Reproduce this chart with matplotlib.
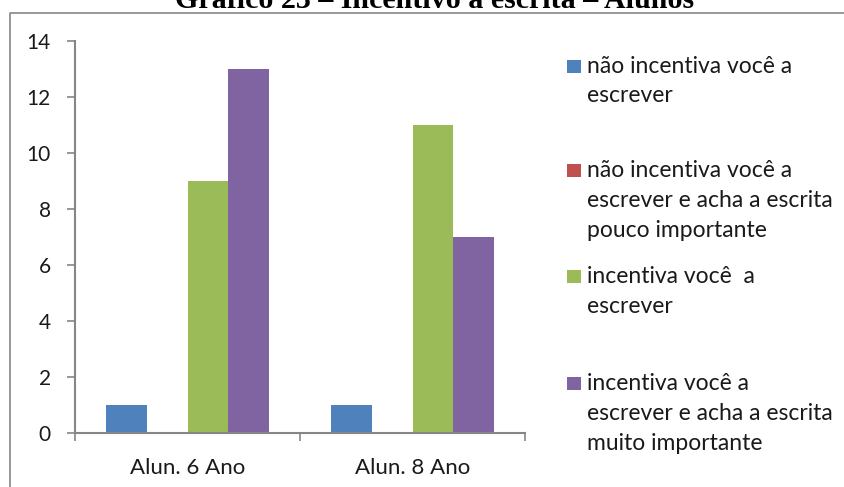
import matplotlib
matplotlib.use("Agg")
import matplotlib.pyplot as plt
from matplotlib.patches import Rectangle
from matplotlib.lines import Line2D
import numpy as np

# --- data -------------------------------------------------------------
categories = ["Alun. 6 Ano", "Alun. 8 Ano"]
series_names = [
    "não incentiva você a\nescrever",
    "não incentiva você a\nescrever e acha a escrita\npouco importante",
    "incentiva você  a\nescrever",
    "incentiva você a\nescrever e acha a escrita\nmuito importante",
]
values = [
    [1, 1],    # não incentiva
    [0, 0],    # não incentiva / pouco importante
    [9, 11],   # incentiva
    [13, 7],   # incentiva / muito importante
]
colors = ["#4F81BD", "#C0504D", "#9BBB59", "#8064A2"]
yticks = [0, 2, 4, 6, 8, 10, 12, 14]
title = "Gráfico 23 – Incentivo à escrita – Alunos"

# --- figure -----------------------------------------------------------
W, H, DPI = 845, 487, 100
fig = plt.figure(figsize=(W / DPI, H / DPI), dpi=DPI)
fig.patch.set_facecolor("white")

SANS = ["Lato", "DejaVu Sans"]
GRAY = "#868686"
TXT = "#1a1a1a"


def px(x, y):
    """pixel (from top-left) -> figure fraction"""
    return x / W, 1 - y / H


# plot area
ax = fig.add_axes([75 / W, 54 / H, 450 / W, 392 / H])
n = len(series_names)
gap = 1.5
bw = 1.0 / (n + gap)
x = np.arange(len(categories))
for i, (vals, c) in enumerate(zip(values, colors)):
    offs = (i - (n - 1) / 2) * bw
    ax.bar(x + offs, vals, width=bw, color=c, edgecolor="none", zorder=2)

ax.set_xlim(-0.5, len(categories) - 0.5)
ax.set_ylim(0, 14)
ax.set_yticks(yticks)
ax.set_yticklabels([str(v) for v in yticks], family=SANS, fontsize=15, color=TXT)
ax.set_xticks(x)
ax.set_xticklabels(categories, family=SANS, fontsize=16, color=TXT)
ax.set_xticks(np.arange(-0.5, len(categories)), minor=True)
ax.tick_params(axis="x", which="major", length=0, pad=18)
ax.tick_params(axis="x", which="minor", length=5.5, width=1.2, color=GRAY, direction="out")
ax.tick_params(axis="y", length=5.5, width=1.2, color=GRAY, direction="out", pad=12)
for s in ("top", "right"):
    ax.spines[s].set_visible(False)
for s in ("left", "bottom"):
    ax.spines[s].set_color(GRAY)
    ax.spines[s].set_linewidth(1.5)
ax.set_facecolor("none")

# legend drawn at the right
sq_w, sq_h = 14, 13
centers = [66, 170.5, 276.5, 383.5]
for name, c, cy in zip(series_names, colors, centers):
    x0, y0 = px(567, cy + sq_h / 2)
    fig.patches.append(Rectangle((x0, y0), sq_w / W, sq_h / H,
                                 transform=fig.transFigure, facecolor=c,
                                 edgecolor="none"))
    for k, line in enumerate(name.split("\n")):
        tx, ty = px(587, cy + 6.5 + k * 30)
        fig.text(tx, ty, line, family=SANS, fontsize=16.5, color=TXT,
                 ha="left", va="baseline")

# chart frame
fx = [px(10.5, H + 5)[0], px(10.5, 13)[0], px(W + 5, 13)[0]]
fy = [px(10.5, H + 5)[1], px(10.5, 13)[1], px(W + 5, 13)[1]]
fig.lines.append(Line2D(fx, fy, transform=fig.transFigure, color=GRAY, lw=1.2))

# title (sits above the frame)
tx, ty = px(435, 8)
t = fig.text(tx, ty, title, family=["Liberation Serif"], fontweight="bold",
             fontsize=18, ha="center", va="baseline", color="black")
fig.canvas.draw()
w = t.get_window_extent().width
t.set_fontsize(18 * 520 / w)

fig.savefig("out.png", dpi=DPI)
